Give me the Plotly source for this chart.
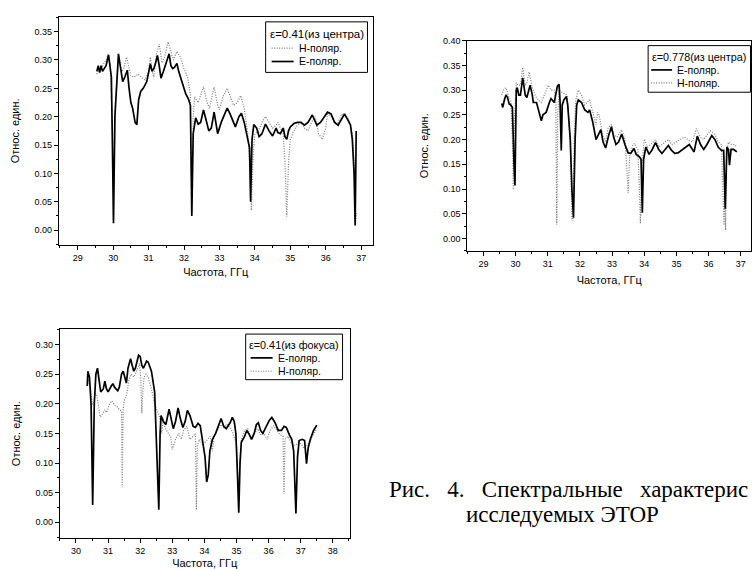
import plotly.graph_objects as go

# ---------- Plot 1: eps=0.41 (из центра) ----------
p1_e_x = [29.54, 29.58, 29.62, 29.66, 29.7, 29.75, 29.8, 29.87, 29.95, 29.98, 30.01, 30.05, 30.1, 30.15, 30.2,
          30.27, 30.33, 30.4, 30.45, 30.5, 30.55, 30.62, 30.67, 30.72, 30.78, 30.85, 30.95, 31.0, 31.05, 31.1,
          31.15, 31.2, 31.25, 31.3, 31.35, 31.42, 31.5, 31.58, 31.63, 31.68, 31.73, 31.8, 31.85, 31.9, 32.0,
          32.05, 32.12, 32.18, 32.22, 32.26, 32.33, 32.4, 32.47, 32.55, 32.62, 32.7, 32.77, 32.85, 32.95, 33.05,
          33.15, 33.22, 33.3, 33.4, 33.45, 33.55, 33.62, 33.7, 33.8, 33.85, 33.88, 33.92, 33.97, 34.05, 34.12,
          34.2, 34.3, 34.4, 34.5, 34.6, 34.65, 34.72, 34.8, 34.85, 34.9, 34.95, 35.0, 35.1, 35.2, 35.3,
          35.4, 35.5, 35.62, 35.75, 35.85, 35.95, 36.05, 36.15, 36.25, 36.35, 36.45, 36.53, 36.62, 36.7, 36.75,
          36.8, 36.83, 36.86]
p1_e_y = [0.28, 0.29, 0.278, 0.29, 0.28, 0.285, 0.29, 0.309, 0.27, 0.15, 0.012, 0.2, 0.27, 0.311, 0.29,
          0.262, 0.27, 0.282, 0.25, 0.225, 0.215, 0.19, 0.186, 0.23, 0.245, 0.25, 0.262, 0.28, 0.293, 0.28,
          0.285, 0.295, 0.308, 0.29, 0.268, 0.28, 0.295, 0.311, 0.29, 0.285, 0.287, 0.294, 0.28, 0.27, 0.25,
          0.24, 0.232, 0.22, 0.025, 0.17, 0.198, 0.187, 0.19, 0.212, 0.195, 0.175, 0.18, 0.208, 0.17, 0.19,
          0.205, 0.215, 0.205, 0.19, 0.182, 0.2, 0.206, 0.19, 0.16, 0.145, 0.05, 0.16, 0.186, 0.18, 0.165,
          0.17, 0.187, 0.175, 0.166, 0.18, 0.172, 0.17, 0.18, 0.165, 0.16, 0.175, 0.182, 0.188, 0.19, 0.19,
          0.185, 0.19, 0.203, 0.185, 0.19, 0.2, 0.208, 0.205, 0.19, 0.185, 0.195, 0.205, 0.195, 0.185, 0.16,
          0.1, 0.008, 0.175]
p1_h_x = [29.54, 29.6, 29.7, 29.8, 29.86, 29.92, 29.97, 30.01, 30.06, 30.15, 30.25, 30.3, 30.38, 30.45,
          30.5, 30.6, 30.7, 30.8, 30.9, 31.0, 31.05, 31.1, 31.15, 31.22, 31.3, 31.38, 31.45, 31.55, 31.62,
          31.7, 31.8, 31.9, 32.0, 32.1, 32.18, 32.22, 32.26, 32.3, 32.4, 32.5, 32.55, 32.65, 32.72, 32.85,
          32.95, 33.0, 33.1, 33.22, 33.32, 33.4, 33.5, 33.6, 33.7, 33.8, 33.85, 33.9, 33.95, 34.0, 34.1,
          34.2, 34.3, 34.4, 34.5, 34.6, 34.65, 34.72, 34.8, 34.85, 34.9, 34.95, 35.0, 35.1, 35.2, 35.3,
          35.4, 35.5, 35.6, 35.7, 35.8, 35.9, 36.0, 36.05, 36.15, 36.25, 36.35, 36.45, 36.55, 36.65, 36.75,
          36.8, 36.84, 36.87]
p1_h_y = [0.275, 0.285, 0.29, 0.3, 0.31, 0.29, 0.2, 0.02, 0.22, 0.305, 0.28, 0.285, 0.305, 0.285,
          0.272, 0.27, 0.275, 0.27, 0.265, 0.28, 0.305, 0.28, 0.27, 0.31, 0.328, 0.295, 0.305, 0.332, 0.315,
          0.3, 0.315, 0.305, 0.285, 0.27, 0.24, 0.03, 0.2, 0.235, 0.225, 0.245, 0.253, 0.225, 0.215, 0.252,
          0.22, 0.212, 0.235, 0.25, 0.235, 0.22, 0.225, 0.237, 0.215, 0.17, 0.12, 0.035, 0.13, 0.17, 0.175,
          0.19, 0.2, 0.19, 0.18, 0.185, 0.19, 0.18, 0.17, 0.12, 0.024, 0.12, 0.16, 0.175, 0.185, 0.19,
          0.18, 0.175, 0.19, 0.2, 0.17, 0.16, 0.18, 0.205, 0.2, 0.19, 0.19, 0.205, 0.2, 0.195, 0.17,
          0.12, 0.01, 0.03]

# ---------- Plot 2: eps=0.778 (из центра) ----------
p2_e_x = [29.57, 29.6, 29.65, 29.7, 29.75, 29.8, 29.85, 29.9, 29.95, 29.98, 30.02, 30.05, 30.1, 30.15, 30.22,
          30.3, 30.35, 30.45, 30.52, 30.55, 30.65, 30.72, 30.8, 30.85, 30.95, 31.05, 31.1, 31.2, 31.3, 31.35,
          31.38, 31.42, 31.45, 31.5, 31.58, 31.62, 31.7, 31.75, 31.8, 31.85, 31.9, 31.95, 32.05, 32.15, 32.25,
          32.3, 32.4, 32.5, 32.6, 32.65, 32.72, 32.8, 32.9, 32.98, 33.05, 33.12, 33.2, 33.3, 33.4, 33.5,
          33.58, 33.68, 33.75, 33.85, 33.9, 33.94, 33.98, 34.05, 34.15, 34.25, 34.35, 34.45, 34.55, 34.65, 34.75,
          34.85, 34.95, 35.05, 35.15, 35.3, 35.4, 35.5, 35.55, 35.65, 35.75, 35.85, 35.95, 36.1, 36.2, 36.3,
          36.4, 36.47, 36.52, 36.57, 36.62, 36.65, 36.7, 36.78, 36.88]
p2_e_y = [0.273, 0.265, 0.28, 0.29, 0.285, 0.272, 0.27, 0.265, 0.15, 0.107, 0.3, 0.305, 0.29, 0.29, 0.325,
          0.29, 0.285, 0.31, 0.29, 0.275, 0.275, 0.26, 0.238, 0.25, 0.255, 0.275, 0.283, 0.275, 0.308, 0.312,
          0.28, 0.178, 0.27, 0.28, 0.287, 0.27, 0.2, 0.1, 0.042, 0.2, 0.27, 0.28, 0.275, 0.26, 0.255,
          0.26, 0.235, 0.2, 0.215, 0.22, 0.195, 0.183, 0.21, 0.226, 0.205, 0.19, 0.195, 0.211, 0.19, 0.173,
          0.172, 0.182, 0.17, 0.165, 0.16, 0.052, 0.16, 0.185, 0.17, 0.18, 0.194, 0.18, 0.172, 0.18, 0.188,
          0.178, 0.172, 0.173, 0.178, 0.186, 0.19, 0.18, 0.175, 0.207, 0.19, 0.18, 0.19, 0.208, 0.2, 0.185,
          0.178, 0.178, 0.06, 0.185, 0.18, 0.148, 0.18, 0.18, 0.175]
p2_h_x = [29.57, 29.62, 29.7, 29.77, 29.85, 29.9, 29.93, 29.97, 30.02, 30.07, 30.15, 30.22, 30.3, 30.35,
          30.42, 30.5, 30.6, 30.7, 30.8, 30.9, 31.02, 31.1, 31.2, 31.25, 31.28, 31.31, 31.35, 31.45, 31.6,
          31.7, 31.75, 31.78, 31.82, 31.87, 31.95, 32.05, 32.15, 32.3, 32.4, 32.5, 32.55, 32.6, 32.7, 32.8,
          32.88, 32.98, 33.05, 33.15, 33.3, 33.4, 33.45, 33.5, 33.55, 33.65, 33.7, 33.8, 33.85, 33.88, 33.93,
          34.0, 34.1, 34.2, 34.35, 34.45, 34.55, 34.75, 34.85, 35.0, 35.1, 35.25, 35.35, 35.5, 35.62, 35.75,
          35.85, 36.05, 36.2, 36.3, 36.4, 36.45, 36.48, 36.5, 36.53, 36.56, 36.62, 36.7, 36.8, 36.88]
p2_h_y = [0.29, 0.3, 0.305, 0.29, 0.28, 0.2, 0.099, 0.25, 0.315, 0.31, 0.31, 0.346, 0.31, 0.315,
          0.337, 0.31, 0.29, 0.28, 0.275, 0.29, 0.31, 0.3, 0.3, 0.28, 0.028, 0.25, 0.3, 0.295, 0.29,
          0.2, 0.04, 0.035, 0.2, 0.28, 0.3, 0.29, 0.27, 0.28, 0.255, 0.23, 0.255, 0.25, 0.21, 0.195,
          0.225, 0.23, 0.21, 0.205, 0.22, 0.2, 0.15, 0.092, 0.17, 0.19, 0.192, 0.18, 0.1, 0.03, 0.15,
          0.201, 0.185, 0.19, 0.2, 0.185, 0.19, 0.2, 0.19, 0.195, 0.2, 0.205, 0.2, 0.195, 0.222, 0.205,
          0.2, 0.218, 0.21, 0.195, 0.19, 0.1, 0.027, 0.1, 0.017, 0.17, 0.195, 0.19, 0.19, 0.185]

# ---------- Plot 3: eps=0.41 (из фокуса) ----------
p3_e_x = [30.35, 30.37, 30.42, 30.47, 30.52, 30.57, 30.62, 30.67, 30.72, 30.77, 30.85, 30.9, 30.95, 31.0,
          31.1, 31.15, 31.2, 31.3, 31.35, 31.42, 31.47, 31.52, 31.57, 31.62, 31.7, 31.75, 31.8, 31.85, 31.95,
          32.0, 32.05, 32.1, 32.2, 32.25, 32.35, 32.45, 32.5, 32.55, 32.58, 32.62, 32.65, 32.72, 32.8, 32.9,
          32.97, 33.03, 33.1, 33.18, 33.25, 33.33, 33.4, 33.47, 33.55, 33.65, 33.72, 33.8, 33.87, 33.95, 34.02,
          34.07, 34.12, 34.17, 34.25, 34.35, 34.45, 34.52, 34.6, 34.68, 34.8, 34.87, 34.93, 34.98, 35.03, 35.07,
          35.11, 35.15, 35.25, 35.32, 35.4, 35.47, 35.55, 35.62, 35.68, 35.75, 35.82, 35.9, 35.95, 36.02, 36.1,
          36.2, 36.3, 36.4, 36.48, 36.55, 36.65, 36.72, 36.78, 36.85, 36.9, 36.95, 37.05, 37.12, 37.18, 37.23,
          37.3, 37.4, 37.5]
p3_e_y = [0.23, 0.255, 0.245, 0.2, 0.029, 0.2, 0.25, 0.26, 0.24, 0.22, 0.225, 0.238, 0.225, 0.22,
          0.23, 0.234, 0.228, 0.222, 0.228, 0.25, 0.255, 0.245, 0.235, 0.26, 0.276, 0.265, 0.255, 0.26, 0.282,
          0.28, 0.265, 0.26, 0.272, 0.27, 0.255, 0.22, 0.15, 0.05, 0.021, 0.15, 0.18, 0.17, 0.165, 0.191,
          0.17, 0.158, 0.17, 0.193, 0.175, 0.16, 0.17, 0.189, 0.18, 0.162, 0.16, 0.167, 0.163, 0.13, 0.11,
          0.068, 0.08, 0.12, 0.14, 0.15, 0.165, 0.175, 0.162, 0.158, 0.168, 0.177, 0.17, 0.15, 0.08, 0.016,
          0.1, 0.135, 0.145, 0.155, 0.148, 0.14, 0.15, 0.165, 0.168, 0.155, 0.15, 0.16, 0.165, 0.172, 0.177,
          0.168, 0.155, 0.155, 0.162, 0.16, 0.147, 0.14, 0.12, 0.015, 0.11, 0.138, 0.14, 0.138, 0.099, 0.125,
          0.14, 0.155, 0.164]
p3_h_x = [30.35, 30.4, 30.45, 30.5, 30.55, 30.6, 30.65, 30.7, 30.75, 30.8, 30.9, 30.95, 31.05, 31.12,
          31.2, 31.28, 31.35, 31.42, 31.44, 31.47, 31.5, 31.58, 31.65, 31.72, 31.8, 31.85, 31.92, 31.98, 32.02,
          32.05, 32.08, 32.12, 32.18, 32.25, 32.35, 32.45, 32.55, 32.6, 32.67, 32.72, 32.77, 32.85, 32.95, 33.0,
          33.1, 33.2, 33.28, 33.35, 33.45, 33.55, 33.65, 33.72, 33.75, 33.78, 33.85, 33.95, 34.02, 34.1, 34.18,
          34.25, 34.3, 34.4, 34.5, 34.6, 34.7, 34.8, 34.9, 35.0, 35.06, 35.1, 35.15, 35.25, 35.35, 35.45,
          35.55, 35.65, 35.75, 35.85, 35.95, 36.05, 36.15, 36.25, 36.35, 36.45, 36.48, 36.51, 36.6, 36.7, 36.8,
          36.85, 36.92, 37.0, 37.1, 37.2, 37.3, 37.4, 37.5]
p3_h_y = [0.23, 0.24, 0.23, 0.2, 0.2, 0.218, 0.215, 0.2, 0.178, 0.18, 0.19, 0.185, 0.2, 0.205,
          0.198, 0.195, 0.19, 0.188, 0.059, 0.19, 0.205, 0.215, 0.24, 0.25, 0.245, 0.25, 0.26, 0.268, 0.24,
          0.184, 0.22, 0.245, 0.25, 0.245, 0.225, 0.2, 0.185, 0.18, 0.15, 0.175, 0.16, 0.152, 0.145, 0.123,
          0.14, 0.15, 0.14, 0.155, 0.162, 0.14, 0.145, 0.15, 0.021, 0.13, 0.14, 0.13, 0.135, 0.14, 0.145,
          0.12, 0.145, 0.155, 0.165, 0.16, 0.165, 0.16, 0.15, 0.13, 0.05, 0.1, 0.14, 0.155, 0.158, 0.14,
          0.15, 0.158, 0.148, 0.15, 0.14, 0.155, 0.163, 0.155, 0.148, 0.145, 0.048, 0.14, 0.145, 0.135, 0.13,
          0.13, 0.135, 0.133, 0.125, 0.13, 0.14, 0.15, 0.158]

x_tick_1 = [29, 30, 31, 32, 33, 34, 35, 36, 37]
y_tick_1 = [0.00, 0.05, 0.10, 0.15, 0.20, 0.25, 0.30, 0.35]
x_tick_2 = [29, 30, 31, 32, 33, 34, 35, 36, 37]
y_tick_2 = [0.00, 0.05, 0.10, 0.15, 0.20, 0.25, 0.30, 0.35, 0.40]
x_tick_3 = [30, 31, 32, 33, 34, 35, 36, 37, 38]
y_tick_3 = [0.00, 0.05, 0.10, 0.15, 0.20, 0.25, 0.30]

legend_titles = ["ε=0.41(из центра)", "ε=0.778(из центра)", "ε=0.41(из фокуса)"]
series_names = {"E": "E-поляр.", "H": "H-поляр."}
caption_1 = ["Рис.", "4.", "Спектральные", "характерис"]
caption_2 = "исследуемых ЭТОР"

W, H = 752, 569
FONT = "Liberation Sans, Arial, sans-serif"
SERIF = "Liberation Serif, Times New Roman, serif"
E_STYLE = dict(color="black", width=1.7)
H_STYLE = dict(color="#7a7a7a", width=1.2, dash="1px,1.5px")

fig = go.Figure()
fig.add_trace(go.Scatter(x=p1_h_x, y=p1_h_y, mode="lines", line=H_STYLE, name=series_names["H"], xaxis="x", yaxis="y"))
fig.add_trace(go.Scatter(x=p1_e_x, y=p1_e_y, mode="lines", line=E_STYLE, name=series_names["E"], xaxis="x", yaxis="y"))
fig.add_trace(go.Scatter(x=p2_h_x, y=p2_h_y, mode="lines", line=H_STYLE, name=series_names["H"], xaxis="x2", yaxis="y2"))
fig.add_trace(go.Scatter(x=p2_e_x, y=p2_e_y, mode="lines", line=E_STYLE, name=series_names["E"], xaxis="x2", yaxis="y2"))
fig.add_trace(go.Scatter(x=p3_h_x, y=p3_h_y, mode="lines", line=H_STYLE, name=series_names["H"], xaxis="x3", yaxis="y3"))
fig.add_trace(go.Scatter(x=p3_e_x, y=p3_e_y, mode="lines", line=E_STYLE, name=series_names["E"], xaxis="x3", yaxis="y3"))


def px(x):
    return x / W


def py(y):
    return 1 - y / H


def axis(dom, rng, ticks, anchor, title, fmt, dtick_minor, standoff):
    return dict(domain=dom, range=rng, tickvals=ticks, ticktext=[fmt.format(t) for t in ticks],
                anchor=anchor, showline=True, mirror=True, linecolor="black", linewidth=1,
                ticks="outside", ticklen=4, tickwidth=1, tickcolor="black", showgrid=False, zeroline=False,
                tickfont=dict(family=FONT, size=9, color="black"), fixedrange=True,
                minor=dict(ticks="outside", ticklen=2, dtick=dtick_minor, tickcolor="black", showgrid=False),
                title=dict(text=title, font=dict(family=FONT, size=11, color="black"), standoff=standoff))


fig.update_layout(
    width=W, height=H, margin=dict(l=0, r=0, t=0, b=0),
    paper_bgcolor="white", plot_bgcolor="white", showlegend=False,
    xaxis=axis([px(59), px(373)], [28.47, 37.32], x_tick_1, "y", "Частота, ГГц", "{:d}", 0.5, 6),
    yaxis=axis([py(242), py(12)], [-0.026, 0.376], y_tick_1, "x", "Относ. един.", "{:.2f}", 0.025, 12),
    xaxis2=axis([px(468), px(752)], [28.5, 37.32], x_tick_2, "y2", "Частота, ГГц", "{:d}", 0.5, 8),
    yaxis2=axis([py(248), py(36)], [-0.025, 0.40], y_tick_2, "x2", "Относ. един.", "{:.2f}", 0.025, 12),
    xaxis3=axis([px(60), px(350)], [29.5, 38.52], x_tick_3, "y3", "Частота, ГГц", "{:d}", 0.5, 4),
    yaxis3=axis([py(538), py(327)], [-0.027, 0.326], y_tick_3, "x3", "Относ. един.", "{:.2f}", 0.025, 12),
)


# Origin-style legend boxes (frame, title, sample line, label)
def add_legend(box, title, title_y, title_size, items):
    x0, y0, x1, y1 = box
    fig.add_shape(type="rect", xref="paper", yref="paper", x0=px(x0), y0=py(y1), x1=px(x1), y1=py(y0),
                  line=dict(color="black", width=1), fillcolor="white", layer="above")
    fig.add_annotation(text=title, xref="paper", yref="paper", x=px((x0 + x1) / 2), y=py(title_y),
                       xanchor="center", yanchor="middle", showarrow=False,
                       font=dict(family=FONT, size=title_size, color="black"))
    for (ly, lx0, lx1, tx, name, style) in items:
        fig.add_shape(type="line", xref="paper", yref="paper", x0=px(lx0), x1=px(lx1), y0=py(ly), y1=py(ly),
                      line=dict(color=style["color"], width=style["width"], dash=style.get("dash", "solid")),
                      layer="above")
        fig.add_annotation(text=name, xref="paper", yref="paper", x=px(tx), y=py(ly),
                           xanchor="left", yanchor="middle", showarrow=False,
                           font=dict(family=FONT, size=10.5, color="black"))


add_legend((266, 17, 368, 68), legend_titles[0], 29.5, 11.5,
           [(43.5, 272, 294, 297, series_names["H"], H_STYLE),
            (57, 272, 294, 297, series_names["E"], E_STYLE)])
add_legend((649, 41, 751.5, 88), legend_titles[1], 52, 10.8,
           [(65.5, 652, 673, 676, series_names["E"], E_STYLE),
            (78.5, 652, 673, 676, series_names["H"], H_STYLE)])
add_legend((246, 332, 343, 378), legend_titles[2], 343.5, 10.8,
           [(356, 251, 273, 276, series_names["E"], E_STYLE),
            (369.5, 251, 273, 276, series_names["H"], H_STYLE)])

GAP = " \u00a0\u00a0"
fig.add_annotation(text=GAP.join(caption_1), xref="paper", yref="paper",
                   x=px(388), y=py(489), xanchor="left", yanchor="middle", showarrow=False,
                   font=dict(family=SERIF, size=23, color="black"))
fig.add_annotation(text=caption_2, xref="paper", yref="paper",
                   x=px(563), y=py(514), xanchor="center", yanchor="middle", showarrow=False,
                   font=dict(family=SERIF, size=23, color="black"))

fig.write_html("out.html", config={"displayModeBar": False, "staticPlot": True},
               post_script="document.body.style.margin='0';")
